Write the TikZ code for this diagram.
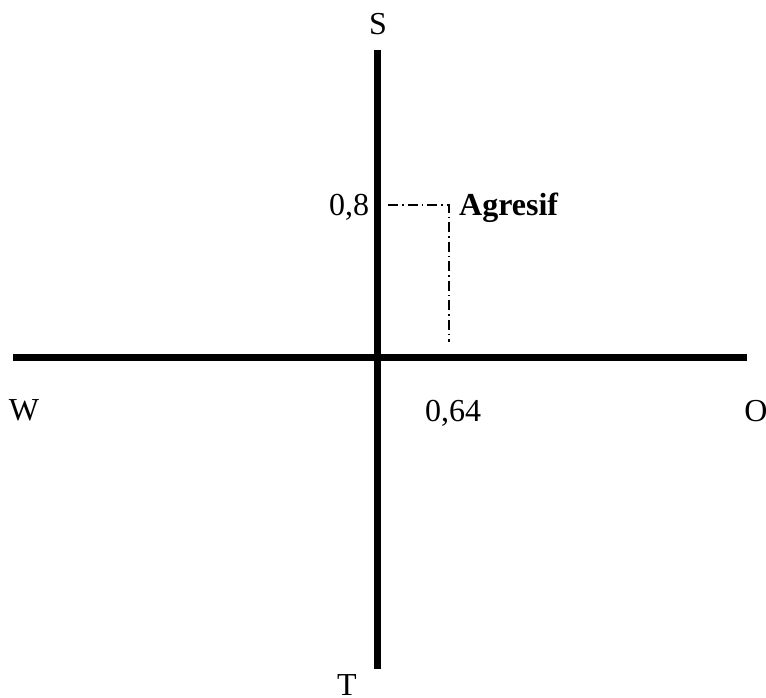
\documentclass[tikz,border=0pt]{standalone}
\usepackage{fontspec}
\setmainfont{Liberation Serif}
\tikzset{axisline/.style={line width=6.5pt},
  guideline/.style={line width=1.5pt, dash pattern=on 10pt off 4pt on 1.5pt off 4pt},
  lbl/.style={font=\fontsize{32}{36}\selectfont, inner sep=0pt, anchor=base}}
\begin{document}
\begin{tikzpicture}[x=1pt,y=-1pt]
\useasboundingbox (0,0) rectangle (766,697);
% axes
\coordinate (west) at (13,357.5);
\coordinate (east) at (747,357.5);
\coordinate (north) at (377.5,50);
\coordinate (south) at (377.5,669);
\draw[axisline] (west) -- (east);
\draw[axisline] (north) -- (south);
% axis labels
\node[lbl] (lblS) at (378,34) {S};
\node[lbl] (lblT) at (347,695) {T};
\node[lbl] (lblW) at (24,420) {W};
\node[lbl] (lblO) at (756,421) {O};
\node[lbl] (lblx) at (453,421) {0,64};
\node[lbl] (lbly) at (349,215) {0,8};
\node[lbl, anchor=base west, font=\fontsize{32}{36}\selectfont\bfseries] (agr) at (459,215) {Agresif};
% guide lines
\coordinate (ymark) at (388,205);
\coordinate (pt) at (449,205);
\coordinate (xmark) at (449,342);
\draw[guideline] (ymark) -- (pt) -- (xmark);
\end{tikzpicture}
\end{document}
